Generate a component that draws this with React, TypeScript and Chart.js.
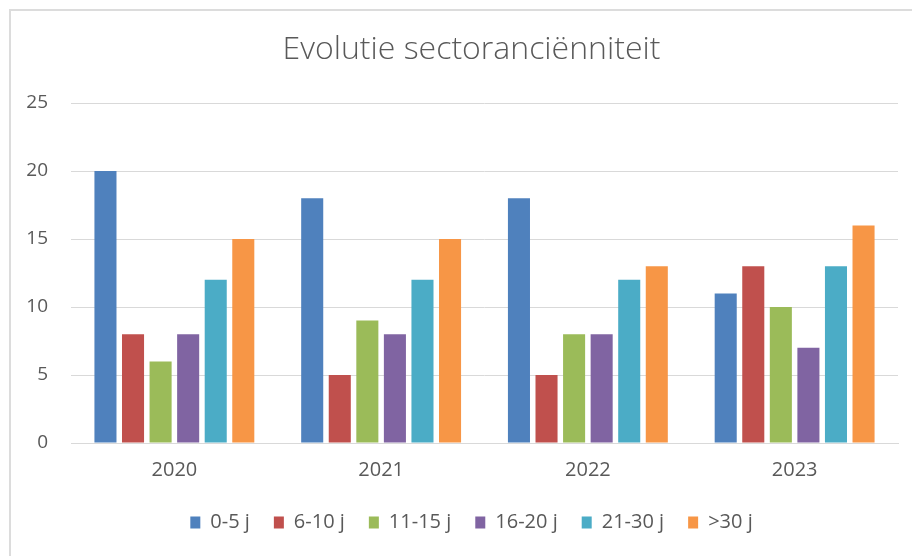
import React, { useEffect, useRef } from "react";
import { Chart, registerables } from "chart.js";

Chart.register(...registerables);

const title = "Evolutie sectoranciënniteit";
const categories = ["2020", "2021", "2022", "2023"];
const seriesNames = ["0-5 j", "6-10 j", "11-15 j", "16-20 j", "21-30 j", ">30 j"];
const s0to5 = [20, 18, 18, 11];
const s6to10 = [8, 5, 5, 13];
const s11to15 = [6, 9, 8, 10];
const s16to20 = [8, 8, 8, 7];
const s21to30 = [12, 12, 12, 13];
const sOver30 = [15, 15, 13, 16];
const seriesColors = ["#4F81BD", "#C0504D", "#9BBB59", "#8064A2", "#4BACC6", "#F79646"];
const yMin = 0;
const yMax = 25;
const yStep = 5;

const FONT = "'Open Sans', 'Liberation Sans', sans-serif";
const TEXT = "#595959";
const GRID = "#d9d9d9";
const CENTER_SHIFT = 22.5;

const shiftPlugin = {
  id: "centerShift",
  afterLayout(chart: any) {
    for (const b of [chart.titleBlock, chart.legend]) {
      if (b) {
        b.left += CENTER_SHIFT;
        b.right += CENTER_SHIFT;
      }
    }
  },
};

export default function App() {
  const ref = useRef<HTMLCanvasElement | null>(null);

  useEffect(() => {
    if (!ref.current) return;
    const values = [s0to5, s6to10, s11to15, s16to20, s21to30, sOver30];
    const chart = new Chart(ref.current, {
      type: "bar",
      data: {
        labels: categories,
        datasets: seriesNames.map((name, i) => ({
          label: name,
          data: values[i],
          backgroundColor: seriesColors[i],
          borderWidth: 0,
          categoryPercentage: 0.8,
          barPercentage: 0.8,
        })),
      },
      plugins: [shiftPlugin],
      options: {
        responsive: false,
        animation: false,
        devicePixelRatio: 1,
        layout: { padding: { left: 0, right: 14, top: 0, bottom: 13.5 } },
        plugins: {
          title: {
            display: true,
            text: title,
            color: TEXT,
            font: { family: FONT, size: 32, weight: "300" as any, lineHeight: 1.2 },
            padding: { top: 31, bottom: 33.6 },
          },
          legend: {
            display: true,
            position: "bottom",
            labels: {
              color: TEXT,
              font: { family: FONT, size: 20 },
              boxWidth: 10,
              boxHeight: 12,
              padding: 24,
            },
          },
          tooltip: { enabled: false },
        },
        scales: {
          x: {
            grid: { display: false, drawTicks: false, tickLength: 0 },
            border: { display: true, color: GRID, width: 1 },
            ticks: { color: TEXT, font: { family: FONT, size: 20 }, padding: 15 },
            afterFit: (s: any) => {
              s.height = 45.5;
            },
          },
          y: {
            min: yMin,
            max: yMax,
            grid: { color: GRID, drawTicks: false, tickLength: 0 },
            border: { display: false },
            ticks: {
              stepSize: yStep,
              color: TEXT,
              font: { family: FONT, size: 19 },
              padding: 23,
            },
            afterFit: (s: any) => {
              s.width = 71;
            },
          },
        },
      },
    });
    return () => chart.destroy();
  }, []);

  return (
    <div style={{ position: "absolute", left: 0, top: 0, width: 912, height: 556, background: "#fff" }}>
      <div
        style={{
          position: "absolute",
          left: 9,
          top: 9,
          width: 903,
          height: 547,
          borderTop: "2px solid #dcdcdc",
          borderLeft: "2px solid #dcdcdc",
          boxSizing: "border-box",
        }}
      />
      <canvas
        ref={ref}
        width={912}
        height={556}
        style={{ position: "absolute", left: 0, top: 0, width: 912, height: 556 }}
      />
    </div>
  );
}
